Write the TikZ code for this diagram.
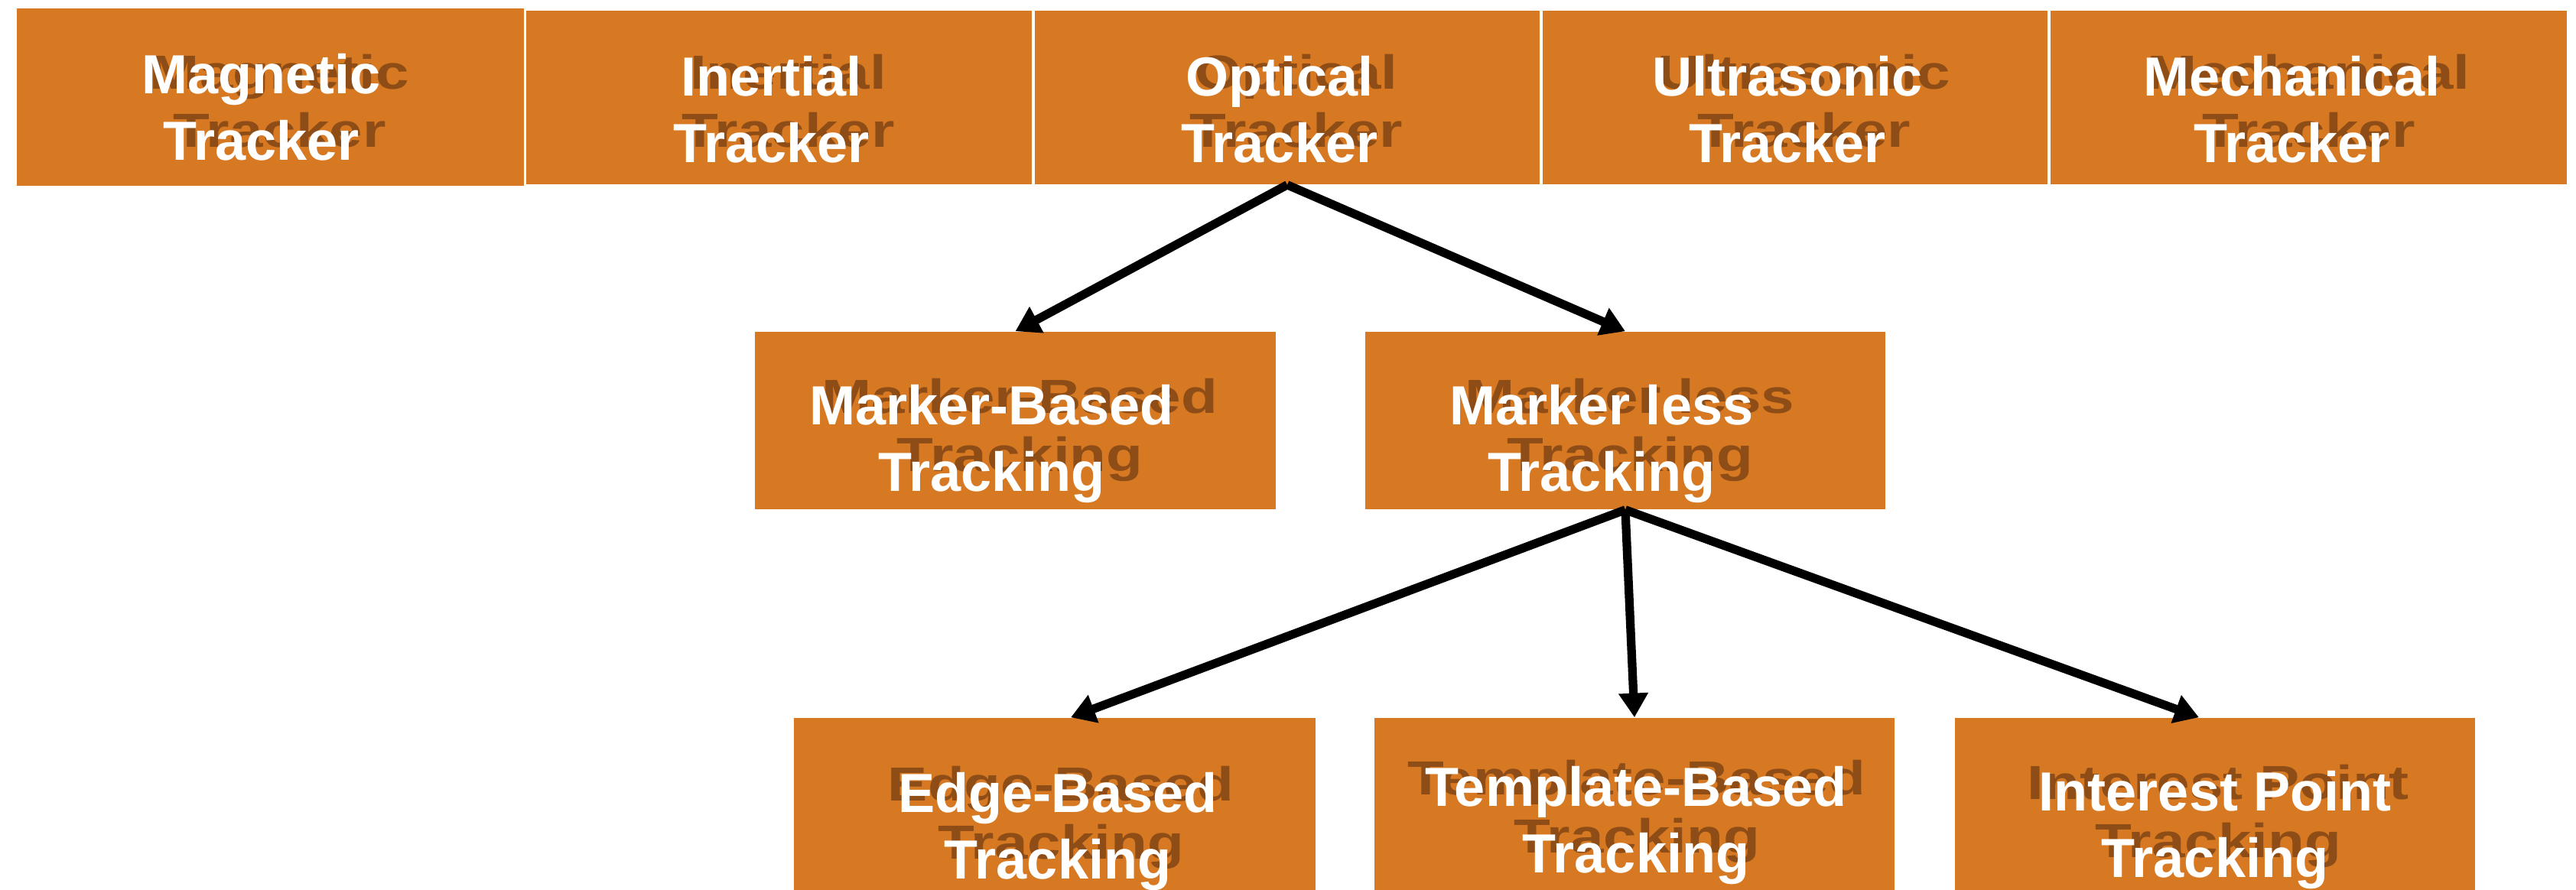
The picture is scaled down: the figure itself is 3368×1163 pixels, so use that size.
\documentclass[tikz,border=0pt]{standalone}
\usepackage{fontspec}
\setmainfont{Liberation Sans}
\newfontfamily\shdfont[FakeStretch=1.25]{Liberation Sans}
\usetikzlibrary{arrows.meta,positioning}
\definecolor{trkorange}{RGB}{215,121,34}
\definecolor{trkshadow}{RGB}{142,77,22}
\tikzset{
  tbox/.style={fill=trkorange,inner sep=0pt,minimum width=6.6cm,minimum height=2.27cm},
  lbl/.style={text=white,font=\bfseries\fontsize{20.5}{24.8}\selectfont,align=center,inner sep=0pt},
  shd/.style={text=trkshadow,font=\shdfont\bfseries\fontsize{17.8}{21.6}\selectfont,align=center,inner sep=0pt},
  arr/.style={-{Triangle[length=9pt,width=10.5pt]},line width=3.2pt},
}

\begin{document}
\begin{tikzpicture}[x=0.01cm,y=-0.01cm]
  \useasboundingbox (0,0) rectangle (3368,1163);
  \clip (0,0) rectangle (3368,1163);
  % top row: kinds of tracker
  \node[tbox,minimum width=6.63cm,minimum height=2.32cm] (magnetic) at (353.5,127) {};
  \node[tbox] (inertial) at (1018.5,127.5) {};
  \node[tbox] (optical) at (1683,127.5) {};
  \node[tbox] (ultrasonic) at (2347,127.5) {};
  \node[tbox,minimum width=6.75cm] (mechanical) at (3018.5,127.5) {};
  % optical tracking
  \node[tbox,minimum width=6.8cm,minimum height=2.32cm] (markerbased) at (1327.5,550) {};
  \node[tbox,minimum width=6.8cm,minimum height=2.32cm] (markerless) at (2125,550) {};
  % markerless tracking
  \node[tbox,minimum width=6.82cm,minimum height=2.32cm] (edge) at (1379,1055) {};
  \node[tbox,minimum width=6.8cm,minimum height=2.32cm] (template) at (2137,1055) {};
  \node[tbox,minimum width=6.8cm,minimum height=2.32cm] (interest) at (2896,1055) {};

  % shadows of the texts
  \node[shd,below=0.6cm of magnetic.north,xshift=0.12cm] (magneticS) {Magnetic\\Tracker};
  \node[shd,below=0.57cm of inertial.north,xshift=0.12cm] (inertialS) {Inertial\\Tracker};
  \node[shd,below=0.57cm of optical.north,xshift=0.12cm] (opticalS) {Optical\\Tracker};
  \node[shd,below=0.57cm of ultrasonic.north,xshift=0.12cm] (ultrasonicS) {Ultrasonic\\Tracker};
  \node[shd,below=0.57cm of mechanical.north,xshift=0.0cm] (mechanicalS) {Mechanical\\Tracker};
  \node[shd,below=0.61cm of markerbased.north,xshift=0.06cm] (markerbasedS) {Marker-Based\\Tracking};
  \node[shd,below=0.61cm of markerless.north,xshift=0.06cm] (markerlessS) {Marker less\\Tracking};
  \node[shd,below=0.63cm of edge.north,xshift=0.08cm] (edgeS) {Edge-Based\\Tracking};
  \node[shd,below=0.55cm of template.north,xshift=0.03cm] (templateS) {Template-Based\\Tracking};
  \node[shd,below=0.61cm of interest.north,xshift=0.04cm] (interestS) {Interest Point\\Tracking};

  % texts
  \node[lbl,below=0.59cm of magnetic.north,xshift=-0.12cm] (magneticT) {Magnetic\\Tracker};
  \node[lbl,below=0.59cm of inertial.north,xshift=-0.1cm] (inertialT) {Inertial\\Tracker};
  \node[lbl,below=0.59cm of optical.north,xshift=-0.1cm] (opticalT) {Optical\\Tracker};
  \node[lbl,below=0.59cm of ultrasonic.north,xshift=-0.1cm] (ultrasonicT) {Ultrasonic\\Tracker};
  \node[lbl,below=0.59cm of mechanical.north,xshift=-0.22cm] (mechanicalT) {Mechanical\\Tracker};
  \node[lbl,below=0.69cm of markerbased.north,xshift=-0.31cm] (markerbasedT) {Marker-Based\\Tracking};
  \node[lbl,below=0.69cm of markerless.north,xshift=-0.31cm] (markerlessT) {Marker less\\Tracking};
  \node[lbl,below=0.71cm of edge.north,xshift=0.04cm] (edgeT) {Edge-Based\\Tracking};
  \node[lbl,below=0.63cm of template.north,xshift=0.02cm] (templateT) {Template-Based\\Tracking};
  \node[lbl,below=0.69cm of interest.north] (interestT) {Interest Point\\Tracking};

  % arrows
  \draw[arr] (optical.south) -- (markerbased.north);
  \draw[arr] (optical.south) -- (markerless.north);
  \draw[arr] (markerless.south) -- ([xshift=0.21cm]edge.north);
  \draw[arr] (markerless.south) -- (template.north);
  \draw[arr] (markerless.south) -- ([xshift=-0.21cm]interest.north);
\end{tikzpicture}
\end{document}
